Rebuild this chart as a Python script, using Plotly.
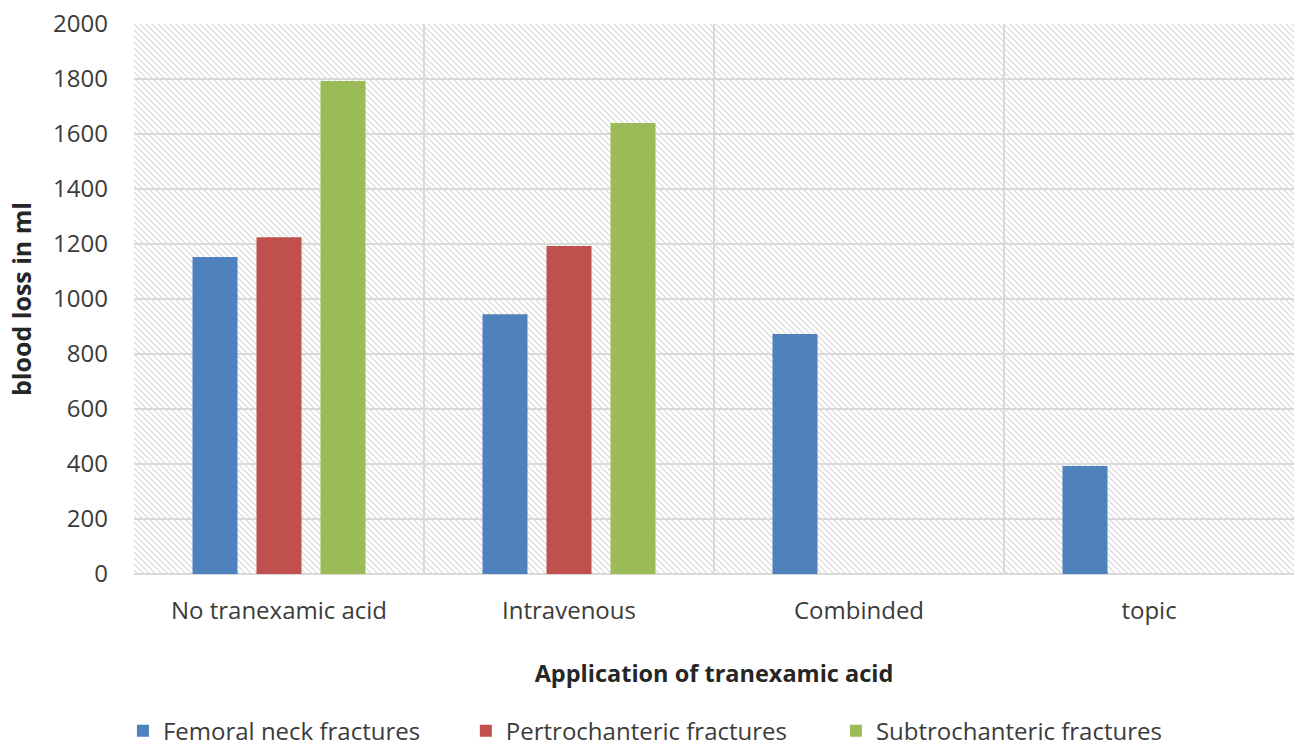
import base64
import plotly.graph_objects as go

# Blood loss by tranexamic acid application and fracture type
categories = ["No tranexamic acid", "Intravenous", "Combinded", "topic"]
femoral_neck = [1153, 945, 873, 393]
pertrochanteric = [1225, 1193, None, None]
subtrochanteric = [1793, 1640, None, None]
y_ticks = [0, 200, 400, 600, 800, 1000, 1200, 1400, 1600, 1800, 2000]

series = [
    ("Femoral neck fractures", femoral_neck, "#4F81BD", "legend"),
    ("Pertrochanteric fractures", pertrochanteric, "#C0504D", "legend2"),
    ("Subtrochanteric fractures", subtrochanteric, "#9BBB59", "legend3"),
]

FONT = "Open Sans"
TEXT = "#3b3b3b"
GRID = "#d9d9d9"

fig = go.Figure()
for name, vals, color, leg in series:
    fig.add_trace(go.Bar(
        x=categories, y=vals, name=name, legend=leg,
        marker=dict(color=color, line=dict(width=0)),
    ))

# Fine diagonal hatching behind the plot area
svg = (
    "<svg xmlns='http://www.w3.org/2000/svg' width='1160' height='550'>"
    "<defs><pattern id='h' width='6' height='6' patternUnits='userSpaceOnUse'>"
    "<path d='M0,0L6,6M-1,5L1,7M5,-1L7,1' stroke='#d6d6d6' stroke-width='1.1'/>"
    "</pattern></defs><rect width='100%' height='100%' fill='url(#h)'/></svg>"
)
hatch = "data:image/svg+xml;base64," + base64.b64encode(svg.encode()).decode()

legend_common = dict(
    orientation="h", xref="container", yref="container",
    yanchor="middle", xanchor="left", y=0.025,
    font=dict(family=FONT, size=24, color=TEXT),
    bgcolor="rgba(0,0,0,0)", itemclick=False,
)

fig.update_layout(
    width=1294, height=750,
    margin=dict(l=134, r=0, t=24, b=176),
    paper_bgcolor="white", plot_bgcolor="rgba(0,0,0,0)",
    barmode="group", bargap=0.338, bargroupgap=0.297,
    font=dict(family=FONT, color=TEXT),
    images=[dict(
        source=hatch, xref="paper", yref="paper", x=0, y=1,
        sizex=1, sizey=1, xanchor="left", yanchor="top",
        sizing="stretch", layer="below",
    )],
    xaxis=dict(
        type="category", tickson="boundaries", ticks="",
        showgrid=True, gridcolor=GRID, gridwidth=2,
        showline=False, ticklabelstandoff=20,
        tickfont=dict(family=FONT, size=24, color=TEXT),
        title=dict(text="<b>Application of tranexamic acid</b>",
                   font=dict(family=FONT, size=23.5, color="#262626"), standoff=40),
    ),
    yaxis=dict(
        range=[0, 2000], tickvals=y_ticks, ticks="",
        showgrid=True, gridcolor=GRID, gridwidth=2,
        zeroline=True, zerolinecolor=GRID, zerolinewidth=2,
        showline=False, ticklabelstandoff=25,
        tickfont=dict(family=FONT, size=24, color=TEXT),
        title=dict(text="<b>blood loss in ml</b>",
                   font=dict(family=FONT, size=25, color="#262626"), standoff=14),
    ),
    legend=dict(legend_common, x=0.095),
    legend2=dict(legend_common, x=0.360),
    legend3=dict(legend_common, x=0.646),
    showlegend=True,
)

fig.write_html("out.html")
